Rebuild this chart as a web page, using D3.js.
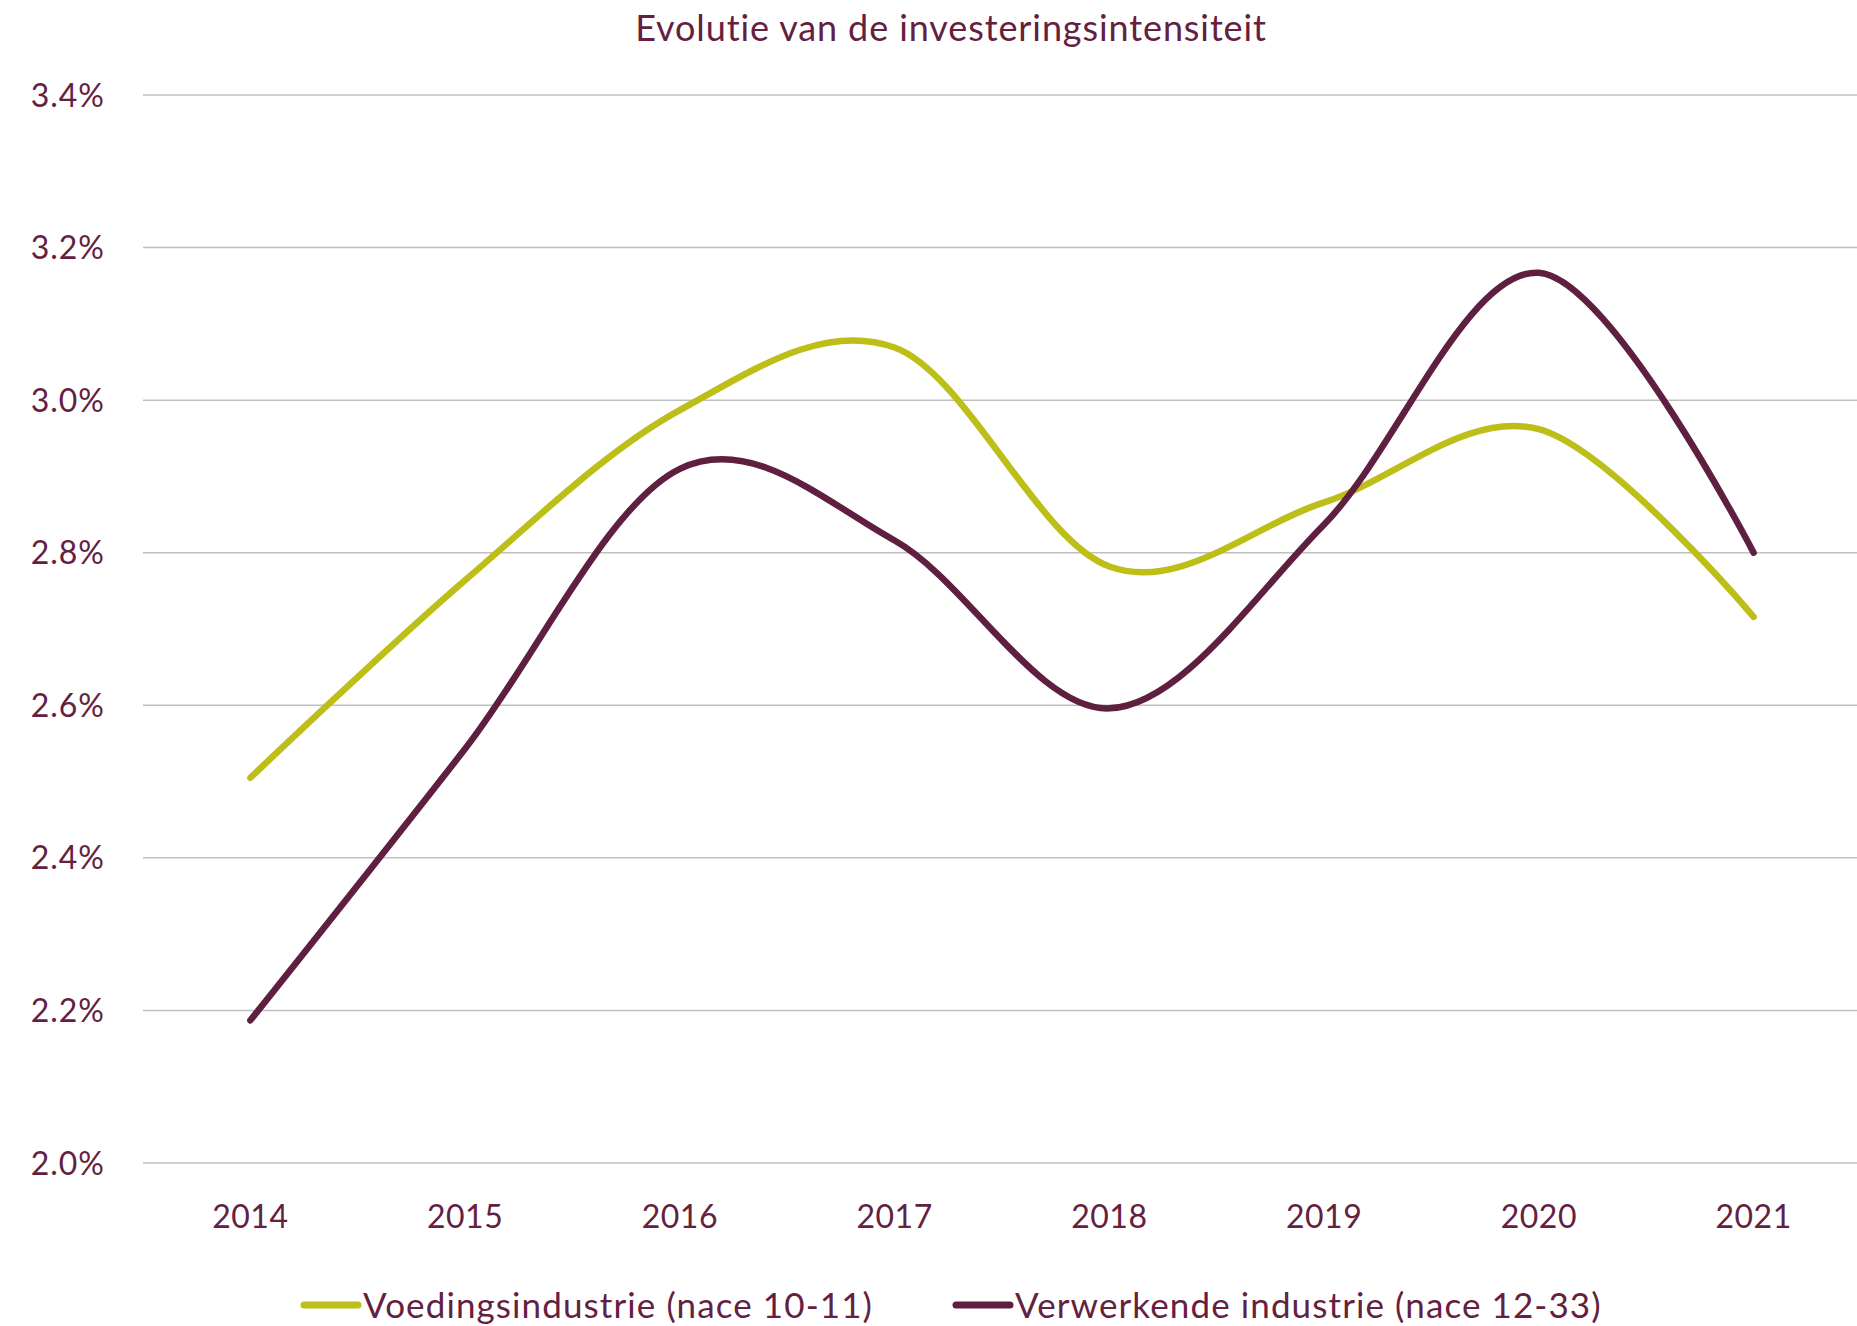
<!DOCTYPE html>
<html lang="nl">
<head>
    <meta charset="UTF-8">
    <title>Evolutie van de investeringsintensiteit</title>
    <script src="https://d3js.org/d3.v7.min.js"></script>
    <style>
        body { margin: 0; background: #fff; }
        svg text { font-family: "Lato", "Noto Sans", sans-serif; fill: #64213f; }
    </style>
</head>
<body>
    <div id="chart"></div>
    <script>
        const years = ["2014", "2015", "2016", "2017", "2018", "2019", "2020", "2021"];
        const voeding = [2.505, 2.764, 2.987, 3.069, 2.782, 2.866, 2.962, 2.716];
        const verwerkend = [2.187, 2.543, 2.910, 2.816, 2.596, 2.837, 3.167, 2.800];
        const yTicks = [2.0, 2.2, 2.4, 2.6, 2.8, 3.0, 3.2, 3.4];
        const seriesNames = ["Voedingsindustrie (nace 10-11)", "Verwerkende industrie (nace 12-33)"];
        const colors = ["#bdbe17", "#5f1f41"];

        const width = 1857, height = 1326;
        const svg = d3.select("#chart").append("svg")
            .attr("width", width).attr("height", height);

        const x = d3.scalePoint().domain(years).range([143, 1861]).padding(0.5);
        const y = d3.scaleLinear().domain([2.0, 3.4]).range([1163, 95]);

        // gridlines
        svg.append("g").selectAll("line").data(yTicks).enter().append("line")
            .attr("x1", 143).attr("x2", width)
            .attr("y1", d => y(d)).attr("y2", d => y(d))
            .attr("stroke", "#bfbfbf").attr("stroke-width", 1.5);

        // y labels
        svg.append("g").selectAll("text").data(yTicks).enter().append("text")
            .attr("x", 105).attr("y", d => y(d)).attr("dy", "0.36em")
            .attr("text-anchor", "end").style("font-size", "32px")
            .style("letter-spacing", "1px")
            .text(d => d.toFixed(1) + "%");

        // x labels
        svg.append("g").selectAll("text").data(years).enter().append("text")
            .attr("x", d => x(d)).attr("y", 1228)
            .attr("text-anchor", "middle").style("font-size", "32px")
            .style("letter-spacing", "0.5px")
            .text(d => d);

        // title
        svg.append("text").attr("x", 951).attr("y", 41)
            .attr("text-anchor", "middle").style("font-size", "36px")
            .style("letter-spacing", "0.9px")
            .text("Evolutie van de investeringsintensiteit");

        const line = d3.line()
            .x((d, i) => x(years[i]))
            .y(d => y(d))
            .curve(d3.curveCatmullRom.alpha(0));

        [voeding, verwerkend].forEach((s, i) => {
            svg.append("path").datum(s)
                .attr("d", line)
                .attr("fill", "none")
                .attr("stroke", colors[i])
                .attr("stroke-width", 6.5)
                .attr("stroke-linecap", "round")
                .attr("stroke-linejoin", "round");
        });

        // legend
        const legendX = [304, 956];
        seriesNames.forEach((name, i) => {
            const g = svg.append("g").attr("transform", `translate(${legendX[i]},1305)`);
            g.append("line").attr("x1", 0).attr("x2", 54)
                .attr("stroke", colors[i]).attr("stroke-width", 7)
                .attr("stroke-linecap", "round");
            g.append("text").attr("x", 59).attr("dy", "0.36em")
                .style("font-size", "35px").style("letter-spacing", "1.1px")
                .text(name);
        });
    </script>
</body>
</html>
